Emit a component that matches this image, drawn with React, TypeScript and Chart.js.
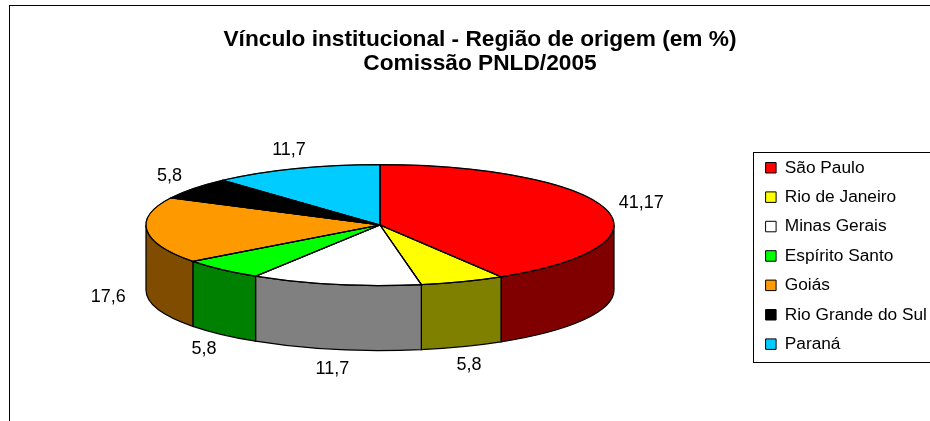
import React, { useEffect, useRef } from "react";
import { Chart, registerables } from "chart.js";

Chart.register(...registerables);

const titleLines = ["Vínculo institucional - Região de origem (em %)", "Comissão PNLD/2005"];
const categories = ["São Paulo", "Rio de Janeiro", "Minas Gerais", "Espírito Santo", "Goiás", "Rio Grande do Sul", "Paraná"];
const values = [41.17, 5.8, 11.7, 5.8, 17.6, 5.8, 11.7];
const topColors = ["#FF0000", "#FFFF00", "#FFFFFF", "#00FF00", "#FF9900", "#000000", "#00CCFF"];
const sideColors = ["#800000", "#808000", "#808080", "#008000", "#804C00", "#000000", "#006680"];

const FONT = "'Liberation Sans', Arial, sans-serif";
const CX = 380;
const CY = 225;
const RX = 234;
const RY = 60.5;
const DEPTH = 65;
const SQUASH = RY / RX;
const LEGEND_LEFT = 753.5;
const LEGEND_TOP = 152.5;
const LEGEND_BOTTOM = 362.5;
const LEGEND_PAD = 12.1;
const LINE = 1.25;

const pie3d = {
  id: "pie3d",
  afterLayout(chart: any) {
    chart.chartArea.left = CX - RX - 10;
    chart.chartArea.right = CX + RX + 10;
    chart.chartArea.top = CY - RX;
    chart.chartArea.bottom = CY + RX;
    chart.chartArea.width = 2 * RX + 20;
    chart.chartArea.height = 2 * RX;
    const lg = chart.legend;
    lg.left = LEGEND_LEFT;
    lg.right = 1000;
    lg.width = lg.right - lg.left;
    lg.top = 147;
    lg.bottom = 421;
    lg.height = lg.bottom - lg.top;
    chart.titleBlock.left = 30;
    chart.titleBlock.right = 930;
  },
  beforeDraw(chart: any) {
    const ctx = chart.ctx;
    ctx.save();
    ctx.fillStyle = "#FFFFFF";
    ctx.fillRect(0, 0, 930, 421);
    ctx.strokeStyle = "#000000";
    ctx.lineWidth = 1;
    ctx.strokeRect(9.5, 5.5, 1000, 1000);
    ctx.strokeRect(LEGEND_LEFT, LEGEND_TOP, 400, LEGEND_BOTTOM - LEGEND_TOP);
    ctx.restore();
  },
  beforeDatasetsDraw(chart: any) {
    const ctx = chart.ctx;
    const arcs = chart.getDatasetMeta(0).data;
    ctx.save();
    ctx.lineWidth = LINE;
    ctx.strokeStyle = "#000000";
    arcs.forEach((arc: any, i: number) => {
      const a0 = Math.max(arc.startAngle, 0);
      const a1 = Math.min(arc.endAngle, Math.PI);
      if (a1 <= a0) return;
      ctx.beginPath();
      ctx.ellipse(arc.x, arc.y, RX, RY, 0, a0, a1);
      ctx.ellipse(arc.x, arc.y + DEPTH, RX, RY, 0, a1, a0, true);
      ctx.closePath();
      ctx.fillStyle = sideColors[i];
      ctx.fill();
      ctx.stroke();
    });
    ctx.restore();
    ctx.save();
    ctx.translate(CX, CY);
    ctx.scale(1, SQUASH);
    ctx.translate(-CX, -CY);
  },
  afterDatasetsDraw(chart: any) {
    const ctx = chart.ctx;
    ctx.restore();
    const arcs = chart.getDatasetMeta(0).data;
    ctx.save();
    ctx.lineWidth = LINE;
    ctx.strokeStyle = "#000000";
    arcs.forEach((arc: any) => {
      ctx.beginPath();
      ctx.moveTo(arc.x, arc.y);
      ctx.ellipse(arc.x, arc.y, RX, RY, 0, arc.startAngle, arc.endAngle);
      ctx.closePath();
      ctx.stroke();
    });
    ctx.fillStyle = "#000000";
    ctx.font = `18px ${FONT}`;
    ctx.textAlign = "center";
    ctx.textBaseline = "middle";
    arcs.forEach((arc: any, i: number) => {
      const mid = (arc.startAngle + arc.endAngle) / 2;
      const c = Math.cos(mid);
      const s = Math.sin(mid);
      const gapX = 15 + 24 * c * c;
      const x = arc.x + (RX + gapX) * c;
      const y = arc.y + (RY + 20) * s + (s > 0 ? DEPTH : 0);
      ctx.fillText(String(values[i]).replace(".", ","), x, y);
    });
    ctx.restore();
  },
};

export default function App() {
  const ref = useRef<HTMLCanvasElement>(null);
  useEffect(() => {
    document.body.style.margin = "0";
    const chart = new Chart(ref.current as HTMLCanvasElement, {
      type: "pie",
      data: {
        labels: categories,
        datasets: [
          {
            data: values,
            backgroundColor: topColors,
            borderColor: "#000000",
            borderWidth: 1,
            radius: RX,
          } as any,
        ],
      },
      options: {
        responsive: false,
        animation: false,
        plugins: {
          title: {
            display: true,
            text: titleLines,
            color: "#000000",
            font: { family: FONT, size: 22.7, weight: "bold", lineHeight: 1.04 },
            padding: { top: 28, bottom: 10 },
          },
          legend: {
            position: "right",
            align: "start",
            labels: {
              color: "#000000",
              font: { family: FONT, size: 17.3 },
              boxWidth: 10.5,
              boxHeight: 10.5,
              padding: LEGEND_PAD,
            },
          },
          tooltip: { enabled: false },
        },
      } as any,
      plugins: [pie3d],
    });
    return () => chart.destroy();
  }, []);
  return <canvas ref={ref} width={930} height={421} style={{ display: "block" }} />;
}
